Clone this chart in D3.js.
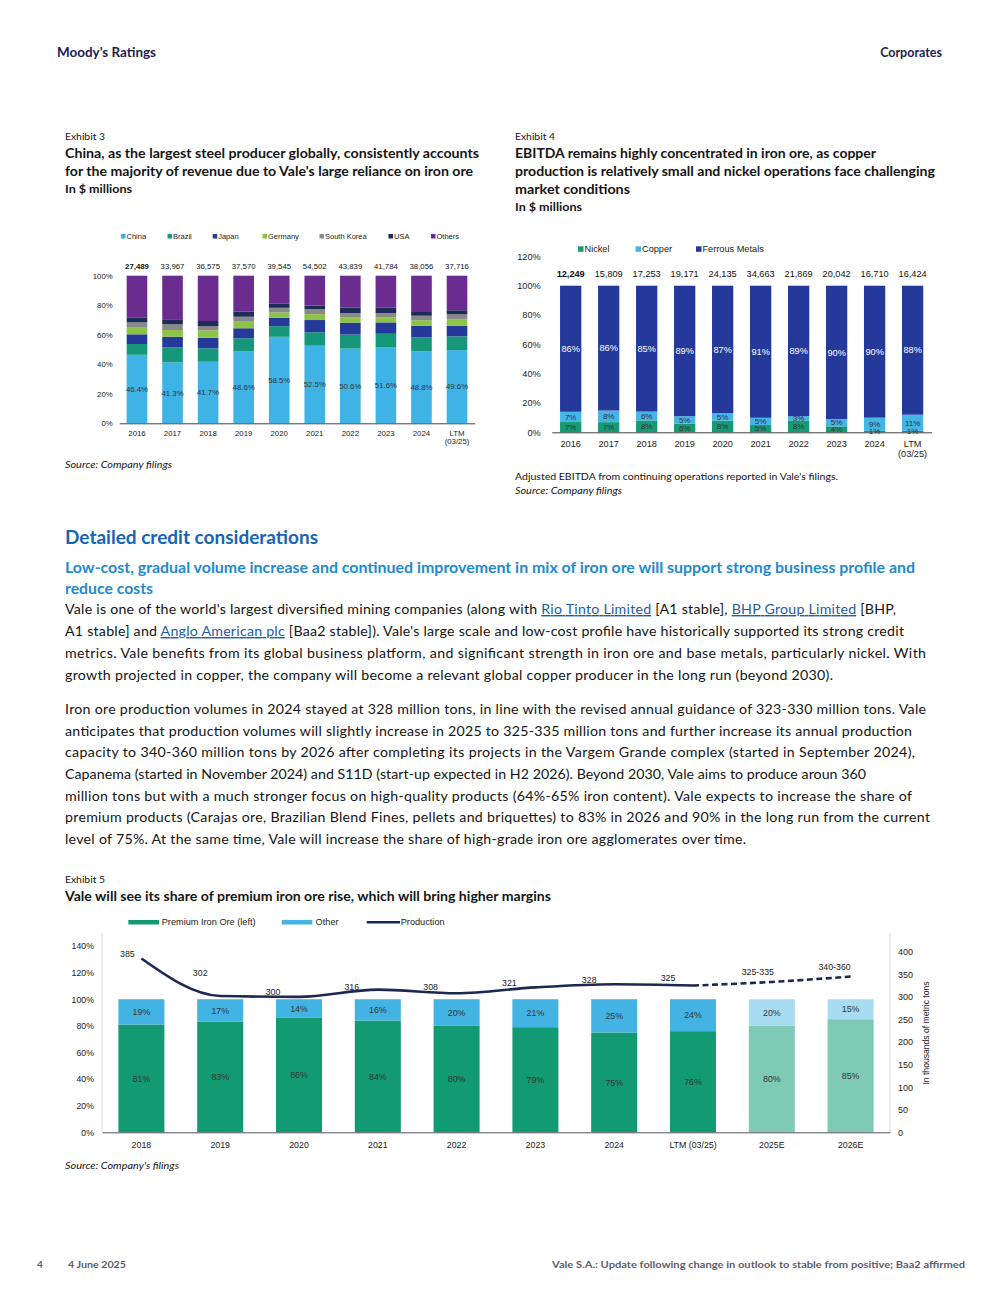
<!DOCTYPE html>
<html>
<head>
<meta charset="utf-8">
<script src="https://cdn.jsdelivr.net/npm/d3@7"></script>
<style>
body { margin: 0; background: #fff; }
svg { display: block; }
</style>
</head>
<body>
<script>
// Exhibit 3 - revenue by destination (% of total), totals in $ millions
var ex3Categories = ["2016", "2017", "2018", "2019", "2020", "2021", "2022", "2023", "2024", "LTM (03/25)"];
var ex3Totals = [27489, 33967, 36575, 37570, 39545, 54502, 43839, 41784, 38056, 37716];
var ex3Keys = ["China", "Brazil", "Japan", "Germany", "South Korea", "USA", "Others"];
var ex3China = [46.4, 41.3, 41.7, 48.6, 58.5, 52.5, 50.6, 51.6, 48.8, 49.6];
var ex3Brazil = [7.3, 10.2, 9.1, 9.0, 7.2, 9.1, 9.5, 9.0, 9.5, 9.3];
var ex3Japan = [6.6, 7.2, 7.2, 6.8, 5.6, 8.3, 8.1, 7.7, 7.8, 7.2];
var ex3Germany = [4.9, 4.5, 5.0, 4.9, 3.7, 4.0, 3.6, 3.4, 3.7, 4.4];
var ex3SouthKorea = [3.2, 3.9, 2.9, 2.9, 3.1, 3.4, 2.9, 2.9, 3.1, 3.3];
var ex3USA = [3.4, 3.4, 3.4, 3.4, 2.7, 2.3, 3.6, 3.6, 2.5, 2.8];
var ex3Others = [28.2, 29.5, 30.7, 24.4, 19.0, 20.3, 21.7, 21.7, 24.6, 23.4];

// Exhibit 4 - EBITDA by segment (%), totals in $ millions
var ex4Categories = ex3Categories;
var ex4Totals = [12249, 15809, 17253, 19171, 24135, 34663, 21869, 20042, 16710, 16424];
var ex4Keys = ["Nickel", "Copper", "Ferrous Metals"];
var ex4Nickel = [7, 7, 8, 6, 8, 5, 8, 4, 1, 1];
var ex4Copper = [7, 8, 6, 5, 5, 5, 3, 5, 9, 11];
var ex4Ferrous = [86, 86, 85, 89, 87, 91, 89, 90, 90, 88];

// Exhibit 5 - premium share and production
var ex5Categories = ["2018", "2019", "2020", "2021", "2022", "2023", "2024", "LTM (03/25)", "2025E", "2026E"];
var ex5Premium = [81, 83, 86, 84, 80, 79, 75, 76, 80, 85];
var ex5Other = [19, 17, 14, 16, 20, 21, 25, 24, 20, 15];
var ex5Production = [385, 302, 300, 316, 308, 321, 328, 325, 333, 345];
var ex5ProdLabels = ["385", "302", "300", "316", "308", "321", "328", "325", "325-335", "340-360"];
var ex5Estimate = [false, false, false, false, false, false, false, false, true, true];

var pageFont = "Lato, 'Noto Sans', sans-serif";
var chartFont = "'Liberation Sans', Arial, sans-serif";

var svg = d3.select("body").append("svg").attr("width", 1002).attr("height", 1302);
svg.append("rect").attr("width", 1002).attr("height", 1302).attr("fill", "#fff");

function txt(g, x, y, s, o) {
    o = o || {};
    var t = g.append("text")
        .attr("x", x).attr("y", y)
        .attr("text-anchor", o.anchor || "start")
        .attr("fill", o.fill || "#141414")
        .style("font-family", o.font || pageFont)
        .style("font-size", (o.size || 12) + "px")
        .style("font-weight", o.weight || "normal")
        .style("font-style", o.italic ? "italic" : "normal")
        .text(s);
    if (o.len) t.attr("textLength", o.len).attr("lengthAdjust", o.adjust || "spacingAndGlyphs");
    return t;
}

// ---------- page header / footer ----------
txt(svg, 57, 56.5, "Moody's Ratings", {size: 12.5, weight: "bold", fill: "#1d1d50", len: 99});
txt(svg, 942, 56.5, "Corporates", {size: 12.5, weight: "bold", fill: "#1d1d50", anchor: "end"});
txt(svg, 37, 1268, "4", {size: 10, weight: "bold", fill: "#5c5c6c"});
txt(svg, 68, 1268, "4 June 2025", {size: 10, weight: "bold", fill: "#5c5c6c", len: 58});
txt(svg, 965, 1268, "Vale S.A.: Update following change in outlook to stable from positive; Baa2 affirmed",
    {size: 10, weight: "bold", fill: "#5c5c6c", anchor: "end", len: 413});

// ---------- exhibit titles ----------
txt(svg, 65, 139.5, "Exhibit 3", {size: 10, len: 40});
txt(svg, 65, 158, "China, as the largest steel producer globally, consistently accounts", {size: 14, weight: "bold", len: 414});
txt(svg, 65, 176, "for the majority of revenue due to Vale's large reliance on iron ore", {size: 14, weight: "bold", len: 408});
txt(svg, 65, 193, "In $ millions", {size: 12, weight: "bold", len: 67});
txt(svg, 65, 467.5, "Source: Company filings", {size: 10, italic: true, len: 107});

txt(svg, 515, 139.5, "Exhibit 4", {size: 10, len: 40});
txt(svg, 515, 158, "EBITDA remains highly concentrated in iron ore, as copper", {size: 14, weight: "bold", len: 361});
txt(svg, 515, 176, "production is relatively small and nickel operations face challenging", {size: 14, weight: "bold", len: 420});
txt(svg, 515, 194, "market conditions", {size: 14, weight: "bold", len: 115});
txt(svg, 515, 211, "In $ millions", {size: 12, weight: "bold", len: 67});
txt(svg, 515, 479.5, "Adjusted EBITDA from continuing operations reported in Vale's filings.", {size: 10, len: 323});
txt(svg, 515, 493.5, "Source: Company filings", {size: 10, italic: true, len: 107});

txt(svg, 65, 882.5, "Exhibit 5", {size: 10, len: 40});
txt(svg, 65, 901, "Vale will see its share of premium iron ore rise, which will bring higher margins", {size: 14, weight: "bold", len: 486});
txt(svg, 65, 1168.5, "Source: Company's filings", {size: 10, italic: true, len: 114});

// ---------- body text ----------
txt(svg, 65, 543.5, "Detailed credit considerations", {size: 18, weight: "bold", fill: "#1565b2", len: 253});
txt(svg, 65, 572.5, "Low-cost, gradual volume increase and continued improvement in mix of iron ore will support strong business profile and",
    {size: 15, weight: "bold", fill: "#218ad0", len: 850});
txt(svg, 65, 593.5, "reduce costs", {size: 15, weight: "bold", fill: "#218ad0", len: 88});

var para1 = [
    [["Vale is one of the world's largest diversified mining companies (along with ", 0], ["Rio Tinto Limited", 1], [" [A1 stable], ", 0], ["BHP Group Limited", 1], [" [BHP,", 0]],
    [["A1 stable] and ", 0], ["Anglo American plc", 1], [" [Baa2 stable]). Vale's large scale and low-cost profile have historically supported its strong credit", 0]],
    [["metrics. Vale benefits from its global business platform, and significant strength in iron ore and base metals, particularly nickel. With", 0]],
    [["growth projected in copper, the company will become a relevant global copper producer in the long run (beyond 2030).", 0]]
];
var para1Ends = [896, 904, 926, 833];
var para2 = [
    "Iron ore production volumes in 2024 stayed at 328 million tons, in line with the revised annual guidance of 323-330 million tons. Vale",
    "anticipates that production volumes will slightly increase in 2025 to 325-335 million tons and further increase its annual production",
    "capacity to 340-360 million tons by 2026 after completing its projects in the Vargem Grande complex (started in September 2024),",
    "Capanema (started in November 2024) and S11D (start-up expected in H2 2026). Beyond 2030, Vale aims to produce aroun 360",
    "million tons but with a much stronger focus on high-quality products (64%-65% iron content). Vale expects to increase the share of",
    "premium products (Carajas ore, Brazilian Blend Fines, pellets and briquettes) to 83% in 2026 and 90% in the long run from the current",
    "level of 75%. At the same time, Vale will increase the share of high-grade iron ore agglomerates over time."
];
var para2Ends = [926, 912, 915, 866, 912, 930, 746];

para1.forEach(function(line, i) {
    var t = txt(svg, 65, 614 + i * 22, "", {size: 14.2, len: para1Ends[i] - 65, adjust: "spacing"});
    line.forEach(function(seg) {
        var ts = t.append("tspan").text(seg[0]);
        if (seg[1]) ts.attr("fill", "#1f5ba8").style("text-decoration", "underline");
    });
});
para2.forEach(function(line, i) {
    var yy = [714, 736, 757, 779, 801, 822, 844][i];
    txt(svg, 65, yy, line, {size: 14.2, len: para2Ends[i] - 65, adjust: "spacing"});
});

// ---------- generic 100% stacked column chart (exhibits 3 and 4) ----------
function pctChart(cfg) {
    var g = svg.append("g");
    var x = d3.scaleBand().domain(cfg.cats).range(cfg.xr).paddingInner(cfg.pad).paddingOuter(cfg.pad / 2);
    var y = d3.scaleLinear().domain([0, cfg.ymax]).range(cfg.yr);
    var rows = cfg.cats.map(function(c, i) {
        var r = {cat: c};
        cfg.keys.forEach(function(k, j) { r[k] = cfg.series[j][i]; });
        return r;
    });
    var stacked = d3.stack().keys(cfg.keys).offset(d3.stackOffsetExpand)(rows);

    g.selectAll("g.layer").data(stacked).join("g")
        .attr("class", "layer")
        .attr("fill", function(d, i) { return cfg.colors[i]; })
        .selectAll("rect").data(function(d) { return d; }).join("rect")
        .attr("x", function(d) { return x(d.data.cat); })
        .attr("width", x.bandwidth())
        .attr("y", function(d) { return y(d[1]); })
        .attr("height", function(d) { return y(d[0]) - y(d[1]); });

    // y axis labels
    var ya = g.append("g").attr("transform", "translate(" + cfg.yLabelX + ",0)")
        .call(d3.axisLeft(y).tickValues(d3.range(0, cfg.ymax + 0.001, 0.2)).tickFormat(d3.format(".0%")).tickSize(0).tickPadding(0));
    ya.select(".domain").remove();
    ya.selectAll("text").style("font-family", chartFont).style("font-size", cfg.fs + "px").attr("fill", "#222");

    // x axis
    var xa = g.append("g").attr("transform", "translate(0," + cfg.yr[0] + ")")
        .call(d3.axisBottom(x).tickSize(0).tickSizeOuter(0).tickFormat(""));
    xa.select(".domain").attr("stroke", "#444").attr("stroke-width", 1);
    cfg.cats.forEach(function(c) {
        c.split(" ").forEach(function(part, k) {
            txt(g, x(c) + x.bandwidth() / 2, cfg.xLabelY + k * cfg.xLineH, part,
                {font: chartFont, size: cfg.fs, anchor: "middle", fill: "#222"});
        });
    });

    // totals
    cfg.totals.forEach(function(v, i) {
        txt(g, x(cfg.cats[i]) + x.bandwidth() / 2, cfg.totalY, d3.format(",")(v),
            {font: chartFont, size: cfg.fs, anchor: "middle", fill: "#111", weight: i === 0 ? "bold" : "normal"});
    });

    // segment labels
    cfg.segLabels.forEach(function(sl) {
        var layer = stacked[sl.layer];
        layer.forEach(function(d, i) {
            var cy = (y(d[0]) + y(d[1])) / 2;
            txt(g, x(d.data.cat) + x.bandwidth() / 2, cy + sl.size * 0.35, sl.fmt(cfg.series[sl.layer][i]),
                {font: chartFont, size: sl.size, anchor: "middle", fill: sl.fill});
        });
    });

    // legend
    cfg.legend.forEach(function(l, i) {
        g.append("rect").attr("x", l).attr("y", cfg.legendY - cfg.sw - 0.5).attr("width", cfg.sw).attr("height", cfg.sw).attr("fill", cfg.colors[i]);
        txt(g, l + cfg.sw + 1, cfg.legendY, cfg.keys[i], {font: chartFont, size: cfg.lfs, fill: "#222"});
    });
}

pctChart({
    cats: ex3Categories, keys: ex3Keys, totals: ex3Totals,
    series: [ex3China, ex3Brazil, ex3Japan, ex3Germany, ex3SouthKorea, ex3USA, ex3Others],
    colors: ["#3fb3e5", "#17977a", "#25399b", "#8cc545", "#898989", "#1d2c57", "#6a2d8f"],
    xr: [119.2, 474.8], pad: 0.42, ymax: 1, yr: [423.3, 275.7], yLabelX: 112.7,
    fs: 7.8, lfs: 7.5, xLabelY: 435.7, xLineH: 8, totalY: 268.8,
    segLabels: [{layer: 0, size: 7.8, fill: "#333", fmt: function(v) { return d3.format(".1f")(v) + "%"; }}],
    legend: [121, 167.5, 212.7, 262.5, 319.5, 388.5, 431], legendY: 239, sw: 4.5
});

pctChart({
    cats: ex4Categories, keys: ex4Keys, totals: ex4Totals,
    series: [ex4Nickel, ex4Copper, ex4Ferrous],
    colors: ["#169a73", "#45b5e6", "#24399a"],
    xr: [551.7, 931.6], pad: 0.44, ymax: 1.2, yr: [432.3, 256.4], yLabelX: 540.7,
    fs: 9.2, lfs: 9.2, xLabelY: 446.5, xLineH: 10, totalY: 277,
    segLabels: [
        {layer: 2, size: 9.2, fill: "#fff", fmt: function(v) { return v + "%"; }},
        {layer: 1, size: 8, fill: "#333", fmt: function(v) { return v + "%"; }},
        {layer: 0, size: 8, fill: "#333", fmt: function(v) { return v + "%"; }}
    ],
    legend: [578, 635.5, 696], legendY: 252.3, sw: 5.5
});

// ---------- exhibit 5 ----------
(function() {
    var g = svg.append("g");
    var fs = 8.8;
    var x = d3.scaleBand().domain(ex5Categories).range([102, 890]).paddingInner(0.416).paddingOuter(0.208);
    var yL = d3.scaleLinear().domain([0, 140]).range([1132.3, 946]);
    var yR = d3.scaleLinear().domain([0, 400]).range([1132.3, 951.7]);
    var premColor = ["#129a72", "#7fcab5"], otherColor = ["#43b3e3", "#a7dcf3"];

    // side frame lines
    [102, 890].forEach(function(xx) {
        g.append("line").attr("x1", xx).attr("x2", xx).attr("y1", 933).attr("y2", 1132.3).attr("stroke", "#d9d9d9");
    });

    var rows = ex5Categories.map(function(c, i) { return {cat: c, premium: ex5Premium[i], other: ex5Other[i], est: ex5Estimate[i]}; });
    var stacked = d3.stack().keys(["premium", "other"])(rows);
    g.selectAll("g.layer").data(stacked).join("g").attr("class", "layer")
        .selectAll("rect").data(function(d) { return d.map(function(p) { p.key = d.key; return p; }); }).join("rect")
        .attr("x", function(d) { return x(d.data.cat); })
        .attr("width", x.bandwidth())
        .attr("y", function(d) { return yL(d[1]); })
        .attr("height", function(d) { return yL(d[0]) - yL(d[1]); })
        .attr("fill", function(d) {
            var k = d.data.est ? 1 : 0;
            return d.key === "premium" ? premColor[k] : otherColor[k];
        });
    stacked.forEach(function(layer) {
        layer.forEach(function(d) {
            var cy = (yL(d[0]) + yL(d[1])) / 2;
            txt(g, x(d.data.cat) + x.bandwidth() / 2, cy + 3.2, (d[1] - d[0]) + "%",
                {font: chartFont, size: fs, anchor: "middle", fill: "#333"});
        });
    });

    // axes
    var la = g.append("g").attr("transform", "translate(94,0)")
        .call(d3.axisLeft(yL).tickValues(d3.range(0, 141, 20)).tickFormat(function(d) { return d + "%"; }).tickSize(0).tickPadding(0));
    la.select(".domain").remove();
    la.selectAll("text").style("font-family", chartFont).style("font-size", fs + "px").attr("fill", "#222");
    var ra = g.append("g").attr("transform", "translate(898,0)")
        .call(d3.axisRight(yR).tickValues(d3.range(0, 401, 50)).tickSize(0).tickPadding(0));
    ra.select(".domain").remove();
    ra.selectAll("text").style("font-family", chartFont).style("font-size", "9px").attr("fill", "#222");
    txt(g, 0, 0, "In thousands of metric tons", {font: chartFont, size: 8.6, anchor: "middle", fill: "#222"})
        .attr("transform", "translate(928.5,1033) rotate(-90)");

    var xa = g.append("g").attr("transform", "translate(0,1132.3)")
        .call(d3.axisBottom(x).tickSize(0).tickSizeOuter(0).tickPadding(9));
    xa.select(".domain").attr("stroke", "#555");
    xa.selectAll("text").style("font-family", chartFont).style("font-size", fs + "px").attr("fill", "#222");

    // production line
    var pts = ex5Production.map(function(v, i) { return [x(ex5Categories[i]) + x.bandwidth() / 2, yR(v)]; });
    var line = d3.line().curve(d3.curveMonotoneX);
    g.append("path").attr("d", line(pts.slice(0, 8))).attr("fill", "none").attr("stroke", "#1c2752").attr("stroke-width", 2.6);
    g.append("path").attr("d", line(pts.slice(7))).attr("fill", "none").attr("stroke", "#1c2752")
        .attr("stroke-width", 2.6).attr("stroke-dasharray", "6,3.5");
    var nudge = [[-14, -5], [-20, -23], [-26, -5], [-26, -3], [-26, -6], [-26, -5], [-25, -4], [-25, -8], [-14, -10], [-16, -10]];
    pts.forEach(function(p, i) {
        txt(g, p[0] + nudge[i][0], p[1] + nudge[i][1] + 3.2, ex5ProdLabels[i],
            {font: chartFont, size: fs, anchor: "middle", fill: "#222"});
    });

    // legend
    g.append("rect").attr("x", 128.3).attr("y", 920).attr("width", 30.7).attr("height", 4.5).attr("fill", premColor[0]);
    txt(g, 161.7, 925, "Premium Iron Ore (left)", {font: chartFont, size: 9.2, fill: "#222"});
    g.append("rect").attr("x", 281.7).attr("y", 920).attr("width", 30.7).attr("height", 4.5).attr("fill", otherColor[0]);
    txt(g, 315.6, 925, "Other", {font: chartFont, size: 9.2, fill: "#222"});
    g.append("line").attr("x1", 366.7).attr("x2", 400).attr("y1", 922.3).attr("y2", 922.3).attr("stroke", "#1c2752").attr("stroke-width", 2.6);
    txt(g, 400.7, 925, "Production", {font: chartFont, size: 9.2, fill: "#222"});
})();
</script>
</body>
</html>
